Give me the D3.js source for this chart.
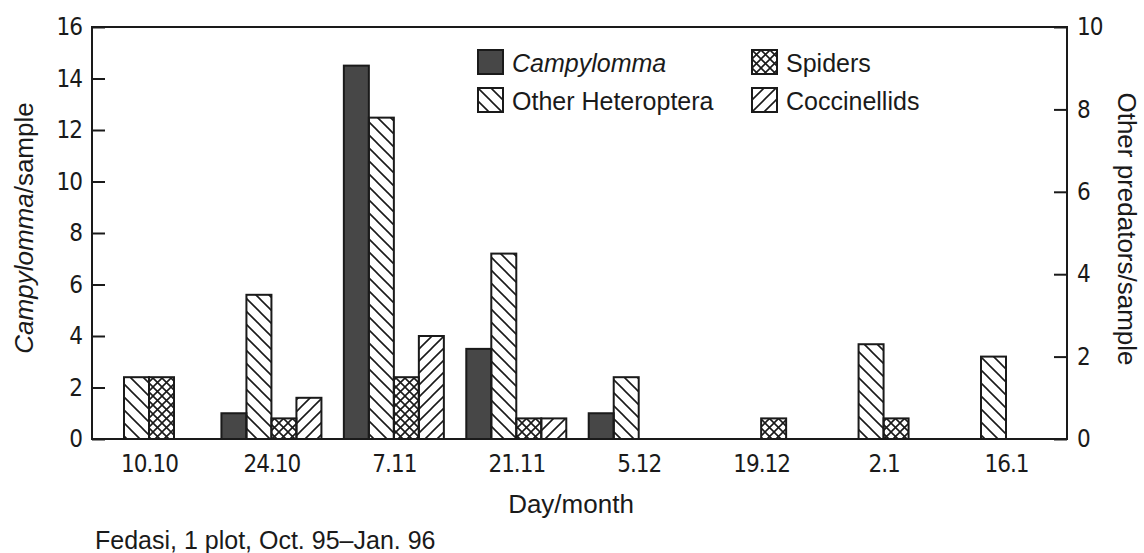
<!doctype html>
<html>
<head>
    <style>
        body { margin: 0; background: #fff; }
        .tick text { font-family: 'Liberation Sans Narrow', 'DejaVu Sans Condensed', sans-serif; font-size: 24px; letter-spacing: -1px; fill: #1a1a1a; }
        .lbl { font-family: 'Liberation Sans', Arial, sans-serif; fill: #1a1a1a; }
    </style>
    <script src="https://d3js.org/d3.v7.min.js"></script>
</head>
<body>
<svg width="1144" height="553"></svg>
<script>
// data
var dates = ["10.10", "24.10", "7.11", "21.11", "5.12", "19.12", "2.1", "16.1"];
var campylomma = [0, 1, 14.5, 3.5, 1, 0, 0, 0];          // left axis
var otherHeteroptera = [1.5, 3.5, 7.8, 4.5, 1.5, 0, 2.3, 2]; // right axis
var spiders = [1.5, 0.5, 1.5, 0.5, 0, 0.5, 0.5, 0];
var coccinellids = [0, 1, 2.5, 0.5, 0, 0, 0, 0];
var seriesNames = ["Campylomma", "Other Heteroptera", "Spiders", "Coccinellids"];
var leftTicks = [0, 2, 4, 6, 8, 10, 12, 14, 16];
var rightTicks = [0, 2, 4, 6, 8, 10];

var svg = d3.select("svg");
var pLeft = 92, pRight = 1067, pTop = 27, pBottom = 439;
var ink = "#1a1a1a";

// hatch patterns
var defs = svg.append("defs");
function hatch(id, size, d) {
    defs.append("pattern")
        .attr("id", id)
        .attr("patternUnits", "userSpaceOnUse")
        .attr("width", size).attr("height", size)
      .append("path")
        .attr("d", d)
        .attr("stroke", ink)
        .attr("stroke-width", 1.6)
        .attr("fill", "none");
}
var s1 = 13, s2 = 9, s3 = 12;
hatch("back", s1, "M-3,-3L" + (s1 + 3) + "," + (s1 + 3) + "M-3," + (s1 - 3) + "L3," + (s1 + 3) + "M" + (s1 - 3) + ",-3L" + (s1 + 3) + ",3");
hatch("cross", s2, "M-2,-2L" + (s2 + 2) + "," + (s2 + 2) + "M-2," + (s2 + 2) + "L" + (s2 + 2) + ",-2");
hatch("fwd", s3, "M-3," + (s3 + 3) + "L" + (s3 + 3) + ",-3M-3,3L3,-3M" + (s3 - 3) + "," + (s3 + 3) + "L" + (s3 + 3) + "," + (s3 - 3));

var fills = {
    "Campylomma": "#474747",
    "Other Heteroptera": "url(#back)",
    "Spiders": "url(#cross)",
    "Coccinellids": "url(#fwd)"
};

var x0 = d3.scalePoint().domain(dates).range([149, 1006]);
var x1 = d3.scaleBand().domain(seriesNames).range([-50, 50]);
var yL = d3.scaleLinear().domain([0, 16]).range([pBottom, pTop]);
var yR = d3.scaleLinear().domain([0, 10]).range([pBottom, pTop]);

var rows = [];
dates.forEach(function(d, i) {
    rows.push({date: d, key: "Campylomma", value: campylomma[i], y: yL});
    rows.push({date: d, key: "Other Heteroptera", value: otherHeteroptera[i], y: yR});
    rows.push({date: d, key: "Spiders", value: spiders[i], y: yR});
    rows.push({date: d, key: "Coccinellids", value: coccinellids[i], y: yR});
});

svg.selectAll(".bar")
    .data(rows.filter(function(d) { return d.value > 0; }))
    .enter().append("rect")
    .attr("class", "bar")
    .attr("x", function(d) { return x0(d.date) + x1(d.key); })
    .attr("y", function(d) { return d.y(d.value); })
    .attr("width", x1.bandwidth())
    .attr("height", function(d) { return pBottom - d.y(d.value); })
    .attr("fill", function(d) { return fills[d.key]; })
    .attr("stroke", ink)
    .attr("stroke-width", 2);

// frame
svg.append("rect")
    .attr("x", pLeft).attr("y", pTop)
    .attr("width", pRight - pLeft).attr("height", pBottom - pTop)
    .attr("fill", "none").attr("stroke", ink).attr("stroke-width", 2);

// axes
var gl = svg.append("g")
    .attr("transform", "translate(" + pLeft + ",0)")
    .call(d3.axisLeft(yL).tickValues(leftTicks).tickSizeInner(-13).tickSizeOuter(0).tickPadding(10));
var gr = svg.append("g")
    .attr("transform", "translate(" + pRight + ",0)")
    .call(d3.axisRight(yR).tickValues(rightTicks).tickSizeInner(-13).tickSizeOuter(0).tickPadding(10));
var gb = svg.append("g")
    .attr("transform", "translate(0," + pBottom + ")")
    .call(d3.axisBottom(x0).tickSize(0));
gb.selectAll("text").attr("y", 33).attr("dy", 0);
[gl, gr, gb].forEach(function(g) {
    g.select(".domain").remove();
    g.selectAll("line").attr("stroke", ink).attr("stroke-width", 2);
});

// axis titles
var lt = svg.append("text").attr("class", "lbl")
    .attr("transform", "translate(33,228) rotate(-90)")
    .attr("text-anchor", "middle")
    .style("font-size", "26px");
lt.append("tspan").style("font-style", "italic").text("Campylomma");
lt.append("tspan").text("/sample");

svg.append("text").attr("class", "lbl")
    .attr("transform", "translate(1118,229) rotate(90)")
    .attr("text-anchor", "middle")
    .style("font-size", "26px")
    .text("Other predators/sample");

svg.append("text").attr("class", "lbl")
    .attr("x", 571).attr("y", 513)
    .attr("text-anchor", "middle")
    .style("font-size", "26px")
    .text("Day/month");

svg.append("text").attr("class", "lbl")
    .attr("x", 95).attr("y", 549)
    .style("font-size", "25px")
    .text("Fedasi, 1 plot, Oct. 95\u2013Jan. 96");

// legend
var legendPos = [[478, 50], [478, 88], [752, 50], [752, 88]];
var lg = svg.selectAll(".leg")
    .data(seriesNames)
    .enter().append("g")
    .attr("class", "leg")
    .attr("transform", function(d, i) { return "translate(" + legendPos[i][0] + "," + legendPos[i][1] + ")"; });
lg.append("rect")
    .attr("width", 25).attr("height", 24)
    .attr("fill", function(d) { return fills[d]; })
    .attr("stroke", ink).attr("stroke-width", 2);
lg.append("text").attr("class", "lbl")
    .attr("x", 34).attr("y", 22)
    .style("font-size", "25px")
    .style("font-style", function(d) { return d == "Campylomma" ? "italic" : "normal"; })
    .text(function(d) { return d; });
</script>
</body>
</html>
